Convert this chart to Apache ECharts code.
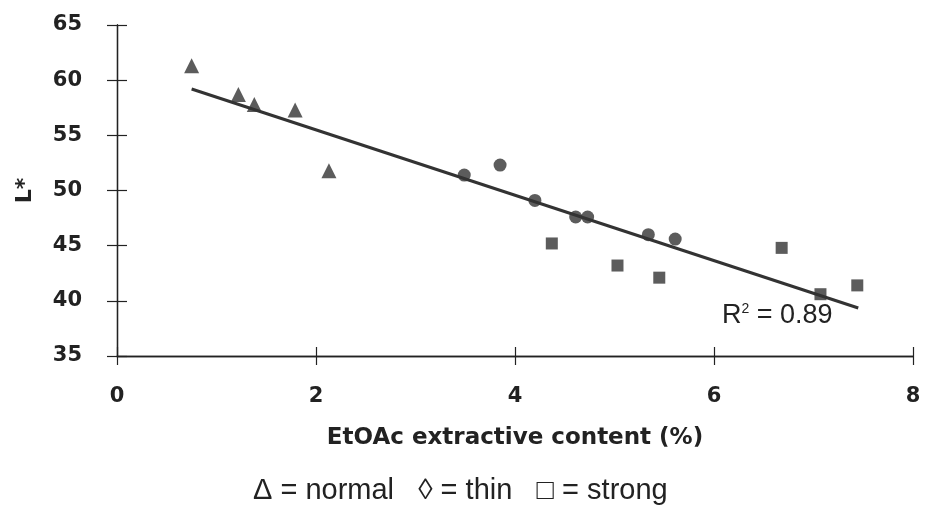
<!DOCTYPE html>
<html><head><meta charset="utf-8">
<script src="https://cdn.jsdelivr.net/npm/echarts@6/dist/echarts.min.js"></script>
<style>html,body{margin:0;padding:0;background:#fff}#c{width:925px;height:519px}</style>
</head><body><div id="c"></div>
<script>
// Data
const normalX = [0.75, 1.22, 1.38, 1.79, 2.13];
const normalY = [61.3, 58.7, 57.8, 57.3, 51.8];
const thinX = [3.49, 3.85, 4.20, 4.61, 4.73, 5.34, 5.61];
const thinY = [51.4, 52.3, 49.1, 47.6, 47.6, 46.0, 45.6];
const strongX = [4.37, 5.03, 5.45, 6.68, 7.07, 7.44];
const strongY = [45.2, 43.2, 42.1, 44.8, 40.6, 41.4];
const fitX = [0.75, 7.45];
const fitY = [59.2, 39.35];
const xTicks = [0, 2, 4, 6, 8];
const yTicks = [35, 40, 45, 50, 55, 60, 65];
const legendText = 'Δ = normal   ◊ = thin   □ = strong';

const zip = (a, b) => a.map((v, i) => [v, b[i]]);
const ink = '#333333';
const chart = echarts.init(document.getElementById('c'));
const xBase = {
  type: 'value', min: xTicks[0], max: xTicks[xTicks.length - 1], interval: 2,
  splitLine: { show: false },
  axisLine: { lineStyle: { color: '#222', width: 1.3 } },
  axisTick: { lineStyle: { color: '#222', width: 1.2 }, length: 9 }
};
const yBase = {
  type: 'value', min: yTicks[0], max: yTicks[yTicks.length - 1], interval: 5,
  splitLine: { show: false },
  axisLine: { onZero: false, lineStyle: { color: '#222', width: 1.3 } },
  axisTick: { lineStyle: { color: '#222', width: 1.2 }, length: 10 }
};
chart.setOption({
  backgroundColor: '#fff',
  animation: false,
  grid: { left: 117, top: 25, right: 12, bottom: 163 },
  xAxis: [
    Object.assign({}, xBase, {
      name: 'EtOAc extractive content (%)', nameLocation: 'middle', nameGap: 71,
      nameTextStyle: { fontFamily: 'DejaVu Sans', fontWeight: 'bold', fontSize: 23, color: '#222' },
      axisLabel: { margin: 30, fontFamily: 'DejaVu Sans', fontWeight: 'bold', fontSize: 21, color: '#222' }
    }),
    Object.assign({}, xBase, { position: 'bottom', axisLabel: { show: false },
      axisTick: Object.assign({}, xBase.axisTick, { inside: true }) })
  ],
  yAxis: [
    Object.assign({}, yBase, {
      name: 'L*', nameLocation: 'middle', nameRotate: 90, nameGap: 81,
      nameTextStyle: { fontFamily: 'DejaVu Sans', fontWeight: 'bold', fontSize: 22, color: '#222' },
      axisLabel: { margin: 35, fontFamily: 'DejaVu Sans', fontWeight: 'bold', fontSize: 21, color: '#222' }
    }),
    Object.assign({}, yBase, { position: 'left', axisLabel: { show: false },
      axisTick: Object.assign({}, yBase.axisTick, { inside: true }) })
  ],
  series: [
    { type: 'line', data: zip(fitX, fitY), symbol: 'none', lineStyle: { color: ink, width: 3 }, z: 2 },
    { type: 'scatter', name: 'normal', data: zip(normalX, normalY), symbol: 'triangle', symbolSize: 15, itemStyle: { color: ink }, z: 3 },
    { type: 'scatter', name: 'thin', data: zip(thinX, thinY), symbol: 'circle', symbolSize: 13, itemStyle: { color: ink }, z: 3 },
    { type: 'scatter', name: 'strong', data: zip(strongX, strongY), symbol: 'rect', symbolSize: 12, itemStyle: { color: ink }, z: 3 }
  ],
  graphic: [
    { type: 'text', left: 722, top: 302, style: {
        text: '{a|R}{s|2}{a| = 0.89}',
        rich: {
          a: { fontFamily: 'Liberation Sans', fontSize: 27, fill: '#222' },
          s: { fontFamily: 'Liberation Sans', fontSize: 14, fill: '#222', verticalAlign: 'top', padding: [0, 0, 12, 0] }
        } } },
    { type: 'text', left: 253, top: 476, style: {
        text: legendText, fontFamily: 'Liberation Sans', fontSize: 29, fill: '#222' } }
  ]
});
</script></body></html>
